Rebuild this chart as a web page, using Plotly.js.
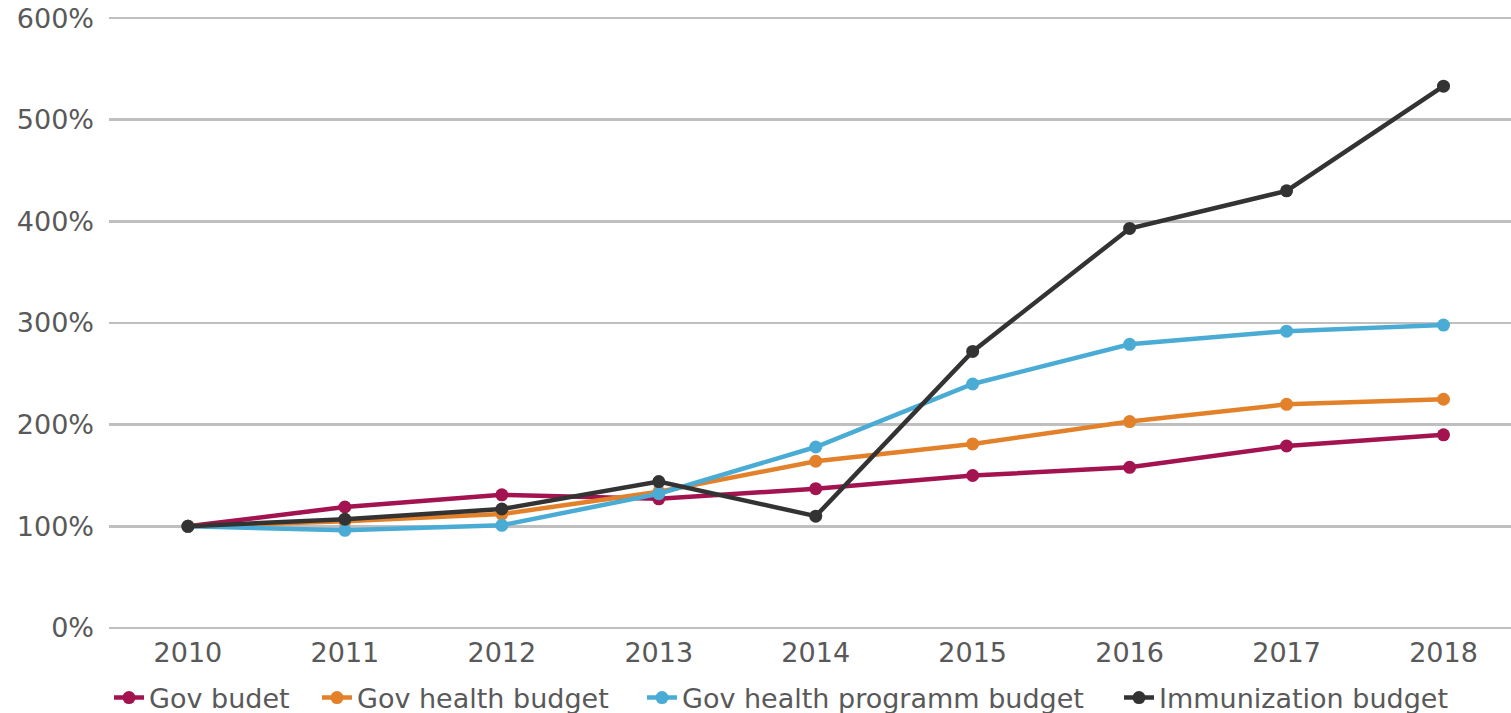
<!DOCTYPE html>
<html><head><meta charset="utf-8">
<script src="https://cdn.plot.ly/plotly-3.0.1.min.js"></script>
<style>html,body{margin:0;padding:0;background:#fff}#chart{width:1511px;height:713px}</style>
</head><body><div id="chart"></div>
<script>
const years = [2010, 2011, 2012, 2013, 2014, 2015, 2016, 2017, 2018];
const govBudget = [100, 119, 131, 127, 137, 150, 158, 179, 190];
const govHealth = [100, 105, 112, 134, 164, 181, 203, 220, 225];
const govHealthProgram = [100, 96, 101, 132, 178, 240, 279, 292, 298];
const immunization = [100, 107, 117, 144, 110, 272, 393, 430, 533];
const seriesNames = ["Gov budet", "Gov health budget", "Gov health programm budget", "Immunization budget"];
const seriesColors = ["#a3134f", "#e3812b", "#4aacd4", "#333333"];
const yTicks = [0, 100, 200, 300, 400, 500, 600];

const legendIds = ['legend', 'legend2', 'legend3', 'legend4'];
const legendX = [0, 0.14836, 0.38017, 0.72040];

const data = [govBudget, govHealth, govHealthProgram, immunization].map((v, i) => ({
  x: years, y: v, name: seriesNames[i], type: 'scatter', mode: 'lines+markers',
  legend: legendIds[i],
  line: {color: seriesColors[i], width: 4.5},
  marker: {color: seriesColors[i], size: 13}
}));

const layout = {
  width: 1511, height: 713,
  margin: {l: 109, r: 0, t: 15, b: 82, autoexpand: false},
  paper_bgcolor: '#fff', plot_bgcolor: '#fff',
  font: {family: 'DejaVu Sans, sans-serif', size: 27, color: '#595959'},
  xaxis: {range: [2009.497, 2018.43], tickvals: years, ticktext: years.map(String),
    showgrid: false, zeroline: false, showline: false, ticks: '', ticklabelstandoff: 3, fixedrange: true,
    automargin: false},
  yaxis: {range: [-3, 603], tickvals: yTicks, ticktext: yTicks.map(v => v + '%'),
    showgrid: true, gridcolor: '#bfbfbf', gridwidth: 2.5, zeroline: false, showline: false,
    ticks: '', ticklabelstandoff: 14, fixedrange: true, automargin: false},
  showlegend: true
};
legendIds.forEach((id, i) => {
  layout[id] = {orientation: 'h', x: legendX[i], xanchor: 'left', y: 0.021, yref: 'container', yanchor: 'middle',
    font: {size: 27, color: '#595959'}, itemwidth: 30, bgcolor: 'rgba(0,0,0,0)'};
});
Plotly.newPlot('chart', data, layout, {displayModeBar: false, staticPlot: true});
</script></body></html>
